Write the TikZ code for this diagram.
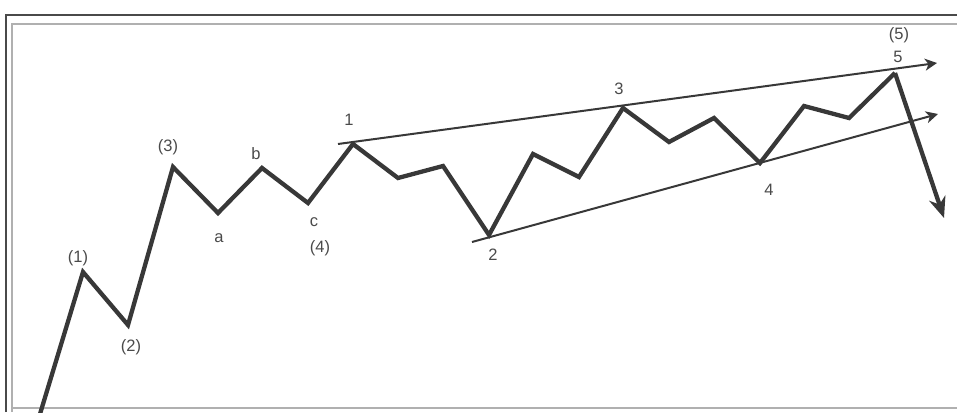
\documentclass[tikz,border=0pt]{standalone}
\usepackage{fontspec}
\setmainfont{Liberation Sans}
\usetikzlibrary{arrows.meta, positioning}
\definecolor{waveink}{HTML}{383838}
\definecolor{textink}{HTML}{4A4A4A}
\definecolor{frameink}{HTML}{4A4A4A}
\definecolor{framelight}{HTML}{B0B0B0}
\tikzset{
    wave/.style={line width=4.3pt, color=waveink, line join=miter},
    drop/.style={line width=4.3pt, color=waveink, -{Stealth[length=21pt, width=17pt]}},
    trend/.style={line width=2pt, color=waveink, -{Stealth[length=12pt, width=12pt, inset=3.5pt]}},
    lbl/.style={font=\fontsize{16.5}{18}\selectfont, text=textink, inner sep=0pt},
    outerframe/.style={line width=1.8pt, color=frameink},
    innerframe/.style={line width=1.3pt, color=framelight}
}

\begin{document}
\begin{tikzpicture}[x=1pt, y=-1pt]
    \useasboundingbox (0,0) rectangle (957,412);
    % frame
    \draw [outerframe] (6,412) -- (6,15) -- (957,15);
    \draw [innerframe] (12,412) -- (12,24) -- (957,24);
    \draw [innerframe] (12,408) -- (957,408);

    % wave points
    \coordinate (s0) at (40,414);
    \coordinate (m1) at (83,272);
    \coordinate (m2) at (128,325);
    \coordinate (m3) at (173,167);
    \coordinate (ma) at (218,213);
    \coordinate (mb) at (262,168);
    \coordinate (mc) at (308,203);
    \coordinate (n1) at (353,144);
    \coordinate (x1) at (398,178);
    \coordinate (x2) at (443,166);
    \coordinate (n2) at (489,235);
    \coordinate (x3) at (533,154);
    \coordinate (x4) at (579,177);
    \coordinate (n3) at (623,108);
    \coordinate (x5) at (669,142);
    \coordinate (x6) at (714,118);
    \coordinate (n4) at (760,163);
    \coordinate (x7) at (804,106);
    \coordinate (x8) at (849,118);
    \coordinate (n5) at (895,73);
    \coordinate (e) at (944,218);

    % trend lines
    \coordinate (t1) at (338,144);
    \coordinate (t1e) at (937,63);
    \coordinate (t2) at (472,242);
    \coordinate (t2e) at (938,114);
    \draw [trend] (t1) -- (t1e);
    \draw [trend] (t2) -- (t2e);

    % wave
    \draw [wave] (s0) -- (m1) -- (m2) -- (m3) -- (ma) -- (mb) -- (mc) -- (n1) -- (x1) -- (x2) -- (n2) -- (x3) -- (x4) -- (n3) -- (x5) -- (x6) -- (n4) -- (x7) -- (x8) -- (n5);
    \draw [drop] (n5) -- (e);

    % labels
    \node (l1) [lbl] at (78,258) {(1)};
    \node (l2) [lbl] at (131,347) {(2)};
    \node (l3) [lbl] at (168,147) {(3)};
    \node (la) [lbl] at (219,238) {a};
    \node (lb) [lbl] at (256,154) {b};
    \node (lc) [lbl] at (314,222) {c};
    \node (l4) [lbl] at (320,248) {(4)};
    \node (k1) [lbl] at (349,120) {1};
    \node (k2) [lbl] at (493,255) {2};
    \node (k3) [lbl] at (619,89) {3};
    \node (k4) [lbl] at (769,190) {4};
    \node (k5) [lbl] at (898,57) {5};
    \node (l5) [lbl] at (899,35) {(5)};
\end{tikzpicture}
\end{document}
